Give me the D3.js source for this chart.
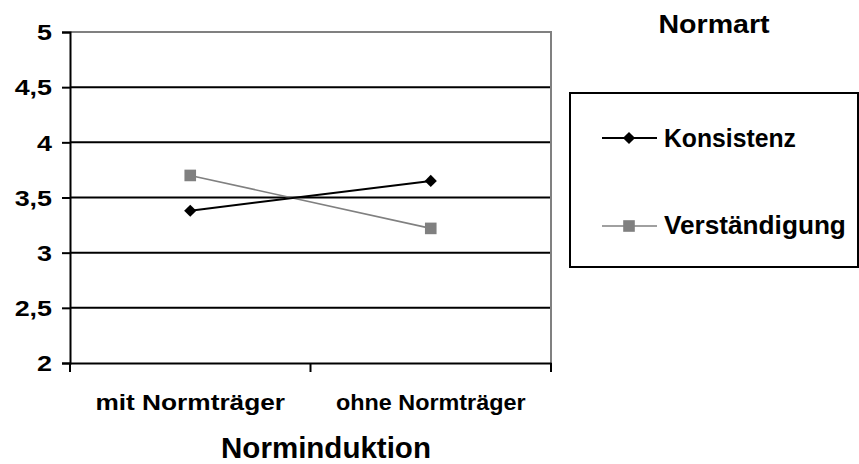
<!DOCTYPE html>
<html>
<head>
<meta charset="utf-8">
<script src="https://cdn.jsdelivr.net/npm/d3@7"></script>
<style>
  html, body { margin: 0; padding: 0; background: #fff; }
  svg { display: block; font-family: "Liberation Sans", Arial, sans-serif; font-weight: bold; }
</style>
</head>
<body>
<svg id="chart" width="859" height="464"></svg>
<script>
// ---- data ----
const categories = ["mit Normträger", "ohne Normträger"];
const seriesNames = ["Konsistenz", "Verständigung"];
const konsistenz = [3.38, 3.65];
const verstaendigung = [3.70, 3.22];
const yTicks = [2, 2.5, 3, 3.5, 4, 4.5, 5];
const xTitle = "Norminduktion";
const legendTitle = "Normart";

// ---- layout ----
const svg = d3.select("#chart");
const plot = { left: 70, right: 551, top: 32, bottom: 363 };
const x = d3.scaleBand().domain(categories).range([plot.left, plot.right]);
const y = d3.scaleLinear().domain([2, 5]).range([plot.bottom, plot.top]);
const fmt = d => String(d).replace(".", ",");

// fit text horizontally to a target width
function fit(sel, w) {
  sel.each(function () {
    const t = d3.select(this);
    const bw = this.getBBox().width;
    const s = w / bw;
    const ax = +t.attr("x"), ay = +t.attr("y");
    t.attr("transform", `translate(${ax},${ay}) scale(${s},1) translate(${-ax},${-ay})`);
  });
}

// gridlines (black)
svg.append("g").selectAll("line")
  .data(yTicks.filter(d => d !== 5 && d !== 2))
  .join("line")
  .attr("x1", plot.left).attr("x2", plot.right)
  .attr("y1", d => y(d)).attr("y2", d => y(d))
  .attr("stroke", "#000").attr("stroke-width", 2);

// plot border top/right (gray)
svg.append("path")
  .attr("d", `M${plot.left},${y(5)}H${plot.right}V${y(2)}`)
  .attr("fill", "none").attr("stroke", "#808080").attr("stroke-width", 2);

// y axis
const yAxis = svg.append("g")
  .attr("transform", `translate(${plot.left},0)`)
  .call(d3.axisLeft(y).tickValues(yTicks).tickFormat(fmt).tickSize(8).tickPadding(10));
yAxis.select(".domain").attr("stroke", "#000").attr("stroke-width", 2);
yAxis.selectAll(".tick line").attr("stroke", "#000").attr("stroke-width", 2);
yAxis.selectAll(".tick text")
  .attr("font-size", 21.5).attr("font-family", "Liberation Sans, Arial, sans-serif")
  .attr("font-weight", "bold").attr("fill", "#000").attr("dy", "0.36em")
  .attr("transform", "scale(1.25,1)").attr("x", -18 / 1.25);

// x axis
const xAxis = svg.append("g")
  .attr("transform", `translate(0,${plot.bottom})`)
  .call(d3.axisBottom(x).tickSize(0).tickFormat(""));
xAxis.select(".domain").attr("stroke", "#000").attr("stroke-width", 2);
// tick marks at band edges
svg.append("g").selectAll("line")
  .data(categories.map(c => x(c)).concat([x(categories[categories.length - 1]) + x.bandwidth()]))
  .join("line")
  .attr("x1", d => d).attr("x2", d => d)
  .attr("y1", plot.bottom).attr("y2", plot.bottom + 9)
  .attr("stroke", "#000").attr("stroke-width", 2);

// category labels
svg.append("g").selectAll("text")
  .data(categories)
  .join("text")
  .attr("x", d => x(d) + x.bandwidth() / 2)
  .attr("y", 410)
  .attr("text-anchor", "middle")
  .attr("font-size", 22.5)
  .text(d => d)
  .call(fit, 190);

// x title
svg.append("text")
  .attr("x", 326).attr("y", 458)
  .attr("text-anchor", "middle").attr("font-size", 29)
  .text(xTitle)
  .call(fit, 210);

// lines
const cx = (d, i) => x(categories[i]) + x.bandwidth() / 2;
const line = d3.line().x(cx).y(d => y(d));
svg.append("path").datum(verstaendigung)
  .attr("d", line).attr("fill", "none").attr("stroke", "#808080").attr("stroke-width", 1.6);
svg.append("path").datum(konsistenz)
  .attr("d", line).attr("fill", "none").attr("stroke", "#000").attr("stroke-width", 2);

const diamond = d3.symbol().type(d3.symbolDiamond2).size(95);
const square = d3.symbol().type(d3.symbolSquare).size(135);

svg.append("g").selectAll("path")
  .data(verstaendigung).join("path")
  .attr("transform", (d, i) => `translate(${cx(d, i)},${y(d)})`)
  .attr("d", square()).attr("fill", "#808080");
svg.append("g").selectAll("path")
  .data(konsistenz).join("path")
  .attr("transform", (d, i) => `translate(${cx(d, i)},${y(d)})`)
  .attr("d", diamond()).attr("fill", "#000");

// legend title
svg.append("text")
  .attr("x", 714).attr("y", 33)
  .attr("text-anchor", "middle").attr("font-size", 25)
  .text(legendTitle)
  .call(fit, 112);

// legend box
svg.append("rect")
  .attr("x", 570).attr("y", 93).attr("width", 288).attr("height", 174)
  .attr("fill", "none").attr("stroke", "#000").attr("stroke-width", 2);

const legendItems = [
  { name: seriesNames[0], color: "#000", sym: diamond, w: 2, ly: 138, ty: 147, tw: 132 },
  { name: seriesNames[1], color: "#808080", sym: square, w: 1.6, ly: 226, ty: 234, tw: 182 }
];
const lg = svg.append("g").selectAll("g").data(legendItems).join("g");
lg.append("line")
  .attr("x1", 602).attr("x2", 657)
  .attr("y1", d => d.ly).attr("y2", d => d.ly)
  .attr("stroke", d => d.color).attr("stroke-width", d => d.w);
lg.append("path")
  .attr("transform", d => `translate(629,${d.ly})`)
  .attr("d", d => d.sym()).attr("fill", d => d.color);
lg.append("text")
  .attr("x", 664).attr("y", d => d.ty)
  .attr("font-size", 25)
  .text(d => d.name)
  .each(function (d) { d3.select(this).call(fit, d.tw); });
</script>
</body>
</html>
